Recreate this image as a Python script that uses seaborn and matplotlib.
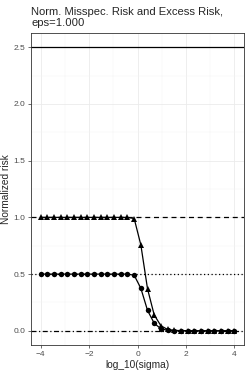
import numpy as np
import pandas as pd
import matplotlib
matplotlib.use("Agg")
import matplotlib.pyplot as plt
from matplotlib.ticker import MultipleLocator
import seaborn as sns

# log_10(sigma) grid, 30 values
log_sigma = np.linspace(-4, 4, 30)

# normalized misspecification risk (triangles)
risk = [1.0] * 14 + [0.99, 0.757, 0.37, 0.14, 0.045, 0.012, 0.004, 0.002,
                     0.001, 0.0, 0.0, 0.0, 0.0, 0.0, 0.0, 0.0]
# normalized excess risk (circles)
excess = [0.5] * 14 + [0.49, 0.375, 0.18, 0.067, 0.018, 0.005, 0.002, 0.001,
                       0.0, 0.0, 0.0, 0.0, 0.0, 0.0, 0.0, 0.0]

ref_levels = [2.5, 1.0, 0.5, 0.0]
ref_styles = ["-", (0, (4, 3)), (0, (1, 2)), (0, (4, 2, 1, 2))]

df = pd.DataFrame({
    "log_sigma": np.concatenate([log_sigma, log_sigma]),
    "value": risk + excess,
    "kind": ["risk"] * 30 + ["excess"] * 30,
})

sns.set_theme(style="whitegrid")
plt.rcParams["font.family"] = ["Liberation Sans", "DejaVu Sans"]

fig = plt.figure(figsize=(2.49, 3.74), dpi=100)
ax = fig.add_axes([0.1245, 0.0775, 0.8555, 0.8343])

for lvl, ls in zip(ref_levels, ref_styles):
    ax.axhline(lvl, color="black", lw=0.9, ls=ls, zorder=2)

sns.lineplot(data=df, x="log_sigma", y="value", hue="kind", style="kind",
             markers={"risk": "^", "excess": "o"}, dashes=False,
             palette={"risk": "black", "excess": "black"},
             markersize=4.6, markeredgewidth=0, linewidth=0.9,
             legend=False, ax=ax, zorder=3)
# circles a touch smaller than triangles
for ln in ax.lines:
    if ln.get_marker() == "o":
        ln.set_markersize(3.9)
    elif ln.get_marker() == "^":
        ln.set_markersize(4.8)

ax.set_xlim(-4.4, 4.4)
ax.set_ylim(-0.125, 2.625)
ax.xaxis.set_major_locator(MultipleLocator(2))
ax.xaxis.set_minor_locator(MultipleLocator(1))
ax.yaxis.set_major_locator(MultipleLocator(0.5))
ax.yaxis.set_minor_locator(MultipleLocator(0.25))
ax.xaxis.set_major_formatter(plt.FuncFormatter(lambda v, p: f"{v:.0f}".replace("-", "\u2212")))
ax.yaxis.set_major_formatter(plt.FuncFormatter(lambda v, p: f"{v:.1f}"))

ax.grid(which="major", color="#ebebeb", lw=0.6)
ax.grid(which="minor", color="#f3f3f3", lw=0.35)
ax.set_facecolor("white")
for s in ax.spines.values():
    s.set_color("#333333")
    s.set_linewidth(0.6)

ax.tick_params(axis="both", which="major", length=2.5, width=0.5, color="#333333",
               labelsize=6, labelcolor="#4d4d4d", pad=1.5, bottom=True, left=True)
ax.tick_params(which="minor", length=0)

ax.set_xlabel("log_10(sigma)", fontsize=7.3, labelpad=2)
ax.set_ylabel("Normalized risk", fontsize=7.3, labelpad=2)
ax.set_title("Norm. Misspec. Risk and Excess Risk,\neps=1.000", fontsize=8.1,
             loc="left", pad=5, linespacing=1.15)

fig.savefig("out.png", dpi=100)
